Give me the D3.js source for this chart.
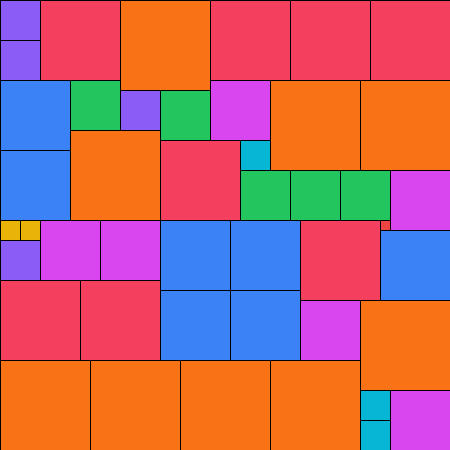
<!DOCTYPE html>
<html>
<head>
<meta charset="utf-8">
<script src="https://cdn.jsdelivr.net/npm/d3@7"></script>
<style>
html,body{margin:0;padding:0;background:#fff;}
svg{display:block;}
</style>
</head>
<body>
<div id="chart"></div>
<script>
// Square sizes (grid units), in placement order (first free cell, row-major)
const sizes = [4,8,9,8,8,8, 4, 7,5,6,9,9, 4,5, 9, 8,3, 7, 5,5,5,6, 2,2,6,6,7,7,8,1, 7, 4, 8,8, 7,7, 6,9, 9,9,9,9, 3,6, 3];
const sizeLevels = [1,2,3,4,5,6,7,8,9];
const levelColors = ["#ef4444","#eab308","#06b6d4","#8b5cf6","#22c55e","#d946ef","#3b82f6","#f43f5e","#f97316"];
const gridUnits = 45;

const W = 450, H = 450;
const x = d3.scaleLinear().domain([0, gridUnits]).range([0, W]);
const y = d3.scaleLinear().domain([0, gridUnits]).range([0, H]);
const color = d3.scaleOrdinal().domain(sizeLevels).range(levelColors);

// Layout: place each square at the first free cell (row-major)
const grid = Array.from({length: gridUnits}, () => new Array(gridUnits).fill(false));
const cells = [];
sizes.forEach((s, i) => {
  let found = false;
  for (let r = 0; r < gridUnits && !found; r++) {
    for (let c = 0; c < gridUnits && !found; c++) {
      if (!grid[r][c]) {
        for (let rr = r; rr < Math.min(r + s, gridUnits); rr++)
          for (let cc = c; cc < Math.min(c + s, gridUnits); cc++) grid[rr][cc] = true;
        cells.push({col: c, row: r, size: s, id: i});
        found = true;
      }
    }
  }
});

const svg = d3.select("#chart").append("svg").attr("width", W).attr("height", H);
svg.selectAll("rect").data(cells).join("rect")
  .attr("x", d => x(d.col))
  .attr("y", d => y(d.row))
  .attr("width", d => x(d.size) - x(0))
  .attr("height", d => y(d.size) - y(0))
  .attr("fill", d => color(d.size))
  .attr("stroke", "#000")
  .attr("stroke-width", 1)
  .attr("shape-rendering", "crispEdges");
</script>
</body>
</html>
